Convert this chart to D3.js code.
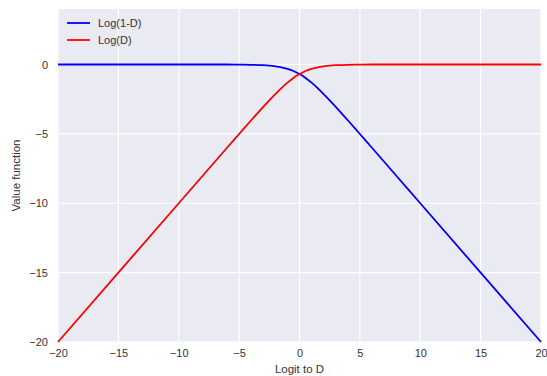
<!DOCTYPE html>
<html>
<head>
<meta charset="utf-8">
<script src="https://cdn.jsdelivr.net/npm/d3@7"></script>
<style>
  body { margin: 0; background: #fff; overflow: hidden; }
  svg text { font-family: "Liberation Sans", Arial, sans-serif; }
</style>
</head>
<body>
<div id="chart"></div>
<script>
// Logit values and the two curves
const logits = [-20, -15, -10, -8, -6, -5, -4, -3, -2.5, -2, -1.5, -1, -0.5, 0, 0.5, 1, 1.5, 2, 2.5, 3, 4, 5, 6, 8, 10, 15, 20];
const logOneMinusD = [0, 0, 0, 0, 0, -0.01, -0.02, -0.05, -0.08, -0.13, -0.20, -0.31, -0.47, -0.69, -0.97, -1.31, -1.70, -2.13, -2.58, -3.05, -4.02, -5.01, -6.0, -8.0, -10.0, -15.0, -20.0];
const logD = [-20.0, -15.0, -10.0, -8.0, -6.0, -5.01, -4.02, -3.05, -2.58, -2.13, -1.70, -1.31, -0.97, -0.69, -0.47, -0.31, -0.20, -0.13, -0.08, -0.05, -0.02, -0.01, 0, 0, 0, 0, 0];
const seriesNames = ['Log(1-D)', 'Log(D)'];
const seriesColors = ['#0000ff', '#ff0000'];
const xTicks = [-20, -15, -10, -5, 0, 5, 10, 15, 20];
const yTicks = [-20, -15, -10, -5, 0];

const width = 547, height = 376;
const margin = { top: 9, right: 6, bottom: 34, left: 58 };
const innerWidth = width - margin.left - margin.right;
const innerHeight = height - margin.top - margin.bottom;

const svg = d3.select('#chart').append('svg')
  .attr('width', width)
  .attr('height', height)
  .style('display', 'block');

const g = svg.append('g')
  .attr('transform', `translate(${margin.left},${margin.top})`);

const x = d3.scaleLinear().domain([-20, 20]).range([0, innerWidth]);
const y = d3.scaleLinear().domain([-20, 4]).range([innerHeight, 0]);

g.append('rect')
  .attr('width', innerWidth)
  .attr('height', innerHeight)
  .attr('fill', '#eaeaf2');

// Grid
g.selectAll('.vgrid')
  .data(xTicks)
  .enter().append('line')
  .attr('x1', d => x(d)).attr('x2', d => x(d))
  .attr('y1', 0).attr('y2', innerHeight)
  .attr('stroke', '#fff').attr('stroke-width', 1.2);

g.selectAll('.hgrid')
  .data(yTicks)
  .enter().append('line')
  .attr('x1', 0).attr('x2', innerWidth)
  .attr('y1', d => y(d)).attr('y2', d => y(d))
  .attr('stroke', '#fff').attr('stroke-width', 1.2);

// Axes
const fmt = d => d < 0 ? '\u2212' + Math.abs(d) : String(d);

const xAxis = g.append('g')
  .attr('transform', `translate(0,${innerHeight})`)
  .call(d3.axisBottom(x).tickValues(xTicks).tickFormat(fmt).tickSize(0).tickPadding(7));

const yAxis = g.append('g')
  .call(d3.axisLeft(y).tickValues(yTicks).tickFormat(fmt).tickSize(0).tickPadding(10));

[xAxis, yAxis].forEach(a => {
  a.select('.domain').remove();
  a.selectAll('text').style('font-size', '11px').style('fill', '#333')
    .style('font-family', '"Liberation Sans", Arial, sans-serif');
});

// Axis labels
svg.append('text')
  .attr('x', margin.left + x(0))
  .attr('y', 373)
  .attr('text-anchor', 'middle')
  .style('font-size', '11.5px')
  .style('fill', '#333')
  .text('Logit to D');

svg.append('text')
  .attr('transform', `translate(20,${margin.top + innerHeight / 2}) rotate(-90)`)
  .attr('text-anchor', 'middle')
  .style('font-size', '11.5px')
  .style('fill', '#333')
  .text('Value function');

// Lines
const line = d3.line()
  .x(d => x(d[0]))
  .y(d => y(d[1]))
  .curve(d3.curveMonotoneX);

const series = [logOneMinusD, logD];

series.forEach((vals, i) => {
  g.append('path')
    .datum(logits.map((v, j) => [v, vals[j]]))
    .attr('fill', 'none')
    .attr('stroke', seriesColors[i])
    .attr('stroke-width', 1.8)
    .attr('d', line);
});

// Legend
const legend = g.append('g').attr('transform', 'translate(9,14)');
seriesNames.forEach((name, i) => {
  legend.append('line')
    .attr('x1', 0).attr('x2', 23)
    .attr('y1', i * 17).attr('y2', i * 17)
    .attr('stroke', seriesColors[i])
    .attr('stroke-width', 1.8);
  legend.append('text')
    .attr('x', 31)
    .attr('y', i * 17 + 4)
    .style('font-size', '11px')
    .style('fill', '#333')
    .text(name);
});
</script>
</body>
</html>
